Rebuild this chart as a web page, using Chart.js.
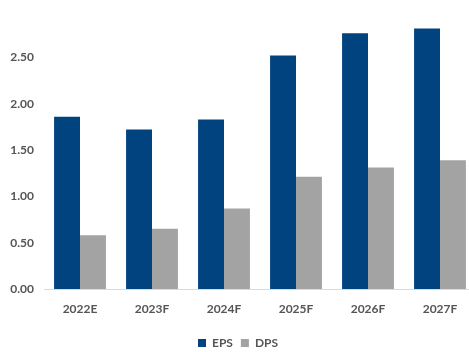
<!DOCTYPE html>
<html lang="en">
<head>
  <meta charset="UTF-8">
  <title>EPS and DPS Forecast</title>
  <script src="https://cdn.jsdelivr.net/npm/chart.js"></script>
  <style>
    html, body { margin: 0; padding: 0; overflow: hidden; background: #fff; }
  </style>
</head>
<body>
  <canvas id="epsChart" width="494" height="352"></canvas>

  <script>
    // Per-share figures by year
    const years = ['2022E', '2023F', '2024F', '2025F', '2026F', '2027F'];
    const eps = [1.86, 1.72, 1.83, 2.52, 2.76, 2.81];
    const dps = [0.58, 0.65, 0.87, 1.21, 1.31, 1.39];

    const labelFont = { family: 'Lato', size: 12, weight: 'bold' };
    const labelColor = '#555555';

    new Chart(document.getElementById('epsChart'), {
      type: 'bar',
      data: {
        labels: years,
        datasets: [
          { label: 'EPS', data: eps, backgroundColor: '#00437F' },
          { label: 'DPS', data: dps, backgroundColor: '#A3A3A3' }
        ]
      },
      options: {
        responsive: false,
        animation: false,
        layout: { padding: { top: 11, left: 0, right: 18, bottom: -7 } },
        datasets: {
          bar: { barPercentage: 1, categoryPercentage: 0.72 }
        },
        plugins: {
          tooltip: { enabled: false },
          legend: {
            position: 'bottom',
            labels: {
              font: labelFont,
              color: labelColor,
              boxWidth: 8,
              boxHeight: 8,
              padding: 8
            }
          }
        },
        scales: {
          x: {
            grid: { display: false, drawTicks: false },
            border: { color: '#D9D9D9', width: 1 },
            ticks: { font: labelFont, color: labelColor, padding: 13 },
            afterFit: (scale) => { scale.height = 40; }
          },
          y: {
            min: 0,
            max: 3,
            grid: { display: false, drawTicks: false },
            border: { display: false },
            ticks: {
              stepSize: 0.5,
              font: labelFont,
              color: labelColor,
              padding: 10,
              // top of the axis (3.00) carries no label
              callback: (v) => (v >= 3 ? null : v.toFixed(2))
            },
            afterFit: (scale) => {
              scale.width = 44;
              scale.paddingTop = 0;
            }
          }
        }
      }
    });
  </script>
</body>
</html>
